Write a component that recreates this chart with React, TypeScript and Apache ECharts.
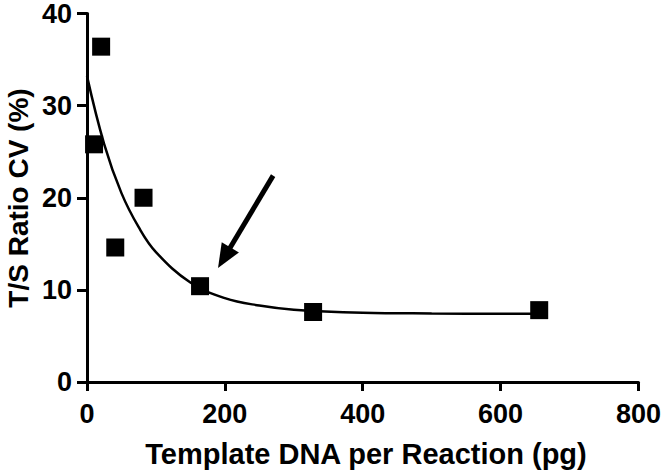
import React, { useEffect, useRef } from "react";
import * as echarts from "echarts";

const xValues = [10.25, 20.5, 41, 82, 164, 328, 656];
const yValues = [25.8, 36.4, 14.6, 20.0, 10.4, 7.6, 7.8];

const curveX = [0, 25, 50, 75, 100, 150, 200, 250, 300, 400, 500, 656];
const curveY = [33.2, 25.8, 20.5, 16.8, 14.1, 10.8, 9.1, 8.3, 7.85, 7.52, 7.44, 7.4];

const arrowFrom = [270, 22.4];
const arrowTo = [199, 13.5];

const xTitle = "Template DNA per Reaction (pg)";
const yTitle = "T/S Ratio CV (%)";

export default function App() {
  const ref = useRef<HTMLDivElement>(null);
  useEffect(() => {
    if (!ref.current) return;
    const chart = echarts.init(ref.current, undefined, { renderer: "svg" });
    const font = "Liberation Sans, Arial, sans-serif";
    chart.setOption({
      animation: false,
      backgroundColor: "#fff",
      grid: { left: 87, right: 25, top: 13, bottom: 90, containLabel: false },
      xAxis: {
        type: "value",
        min: 0,
        max: 800,
        interval: 200,
        splitLine: { show: false },
        axisLine: { lineStyle: { color: "#000", width: 3 } },
        axisTick: { length: 9, lineStyle: { color: "#000", width: 3 } },
        axisLabel: { color: "#000", fontSize: 27, lineHeight: 22, fontWeight: "bold", fontFamily: font, margin: 21 },
      },
      yAxis: {
        type: "value",
        min: 0,
        max: 40,
        interval: 10,
        splitLine: { show: false },
        axisLine: { show: true, lineStyle: { color: "#000", width: 3 } },
        axisTick: { show: true, length: 10, lineStyle: { color: "#000", width: 3 } },
        axisLabel: { color: "#000", fontSize: 27, lineHeight: 22, fontWeight: "bold", fontFamily: font, margin: 15 },
      },
      graphic: [
        {
          type: "text",
          x: 366,
          y: 454,
          style: {
            text: xTitle,
            font: `bold 29px ${font}`,
            fill: "#000",
            textAlign: "center",
            textVerticalAlign: "middle",
          },
        },
        {
          type: "text",
          x: 18,
          y: 198,
          rotation: Math.PI / 2,
          style: {
            text: yTitle,
            font: `bold 28px ${font}`,
            fill: "#000",
            textAlign: "center",
            textVerticalAlign: "middle",
          },
        },
      ],
      series: [
        {
          type: "line",
          data: curveX.map((x, i) => [x, curveY[i]]),
          smooth: 0.4,
          showSymbol: false,
          symbol: "none",
          lineStyle: { color: "#000", width: 2.5 },
          markLine: {
            silent: true,
            symbol: ["none", "triangle"],
            symbolSize: [20, 24],
            label: { show: false },
            lineStyle: { color: "#000", width: 5, type: "solid" },
            data: [[{ coord: arrowFrom }, { coord: arrowTo }]],
          },
          z: 2,
        },
        {
          type: "scatter",
          data: xValues.map((x, i) => [x, yValues[i]]),
          symbol: "rect",
          symbolSize: 18,
          itemStyle: { color: "#000", opacity: 1 },
          z: 3,
        },
      ],
    });
    return () => chart.dispose();
  }, []);
  return <div ref={ref} style={{ width: 664, height: 472, position: "absolute", left: 0, top: 0 }} />;
}
